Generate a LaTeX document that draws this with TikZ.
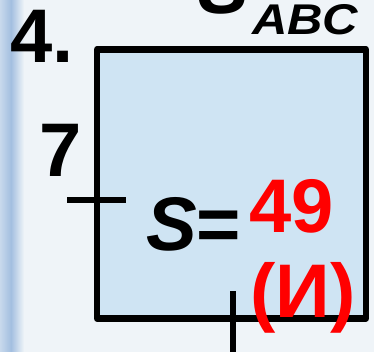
\documentclass[tikz,border=0pt]{standalone}
\usepackage{fontspec}
\setmainfont{Liberation Sans}
\usepackage{graphicx}
\usepackage{tikz}
\usetikzlibrary{positioning}
\definecolor{sqblue}{HTML}{CFE4F3}
\definecolor{bgpale}{HTML}{EFF4F8}
\definecolor{barblue}{HTML}{A3BFE0}
\definecolor{barlight}{HTML}{C8D9EC}

\begin{document}
\begin{tikzpicture}[x=1pt, y=-1pt,
  lbl/.style={inner sep=0pt, anchor=base west, font=\fontsize{76}{76}\selectfont\bfseries},
  tickmark/.style={line width=6pt},
  square/.style={draw, line width=6.5pt, line join=round, fill=sqblue, minimum size=269pt, inner sep=0pt}]
\useasboundingbox (0,0) rectangle (374,352);
\clip (0,0) rectangle (374,352);
% background with the bar on the left
\fill[bgpale] (0,0) rectangle (374,352);
\shade[left color=barlight, right color=barblue] (0,0) rectangle (11,352);
\shade[left color=barblue, right color=bgpale] (11,0) rectangle (24,352);
% the square
\node[square] (sq) at (231.5,184) {};
\coordinate (lt) at (67,200.5);
\coordinate (rt) at (126,200.5);
\coordinate (bt) at (232.5,291);
\coordinate (bb) at (232.5,358);
\draw[tickmark] (lt) -- (rt);
\draw[tickmark] (bt) -- (bb);
% labels
\node[lbl] (num) at (10,63) {4.};
\node[lbl] (side) at (39,177) {7};
\node[lbl] (area) at (146,251) {\textit{S}=};
\node[lbl, text=red] (val) at (249,233) {49};
\node[lbl, text=red] (mark) at (250,317) {(И)};
\node[lbl] (bigs) at (198,14) {\itshape S};
\node[lbl, font=\fontsize{43}{43}\selectfont\bfseries\itshape] (sub) at (252,34.5) {\scalebox{1.14}[1]{ABC}};
\end{tikzpicture}
\end{document}
